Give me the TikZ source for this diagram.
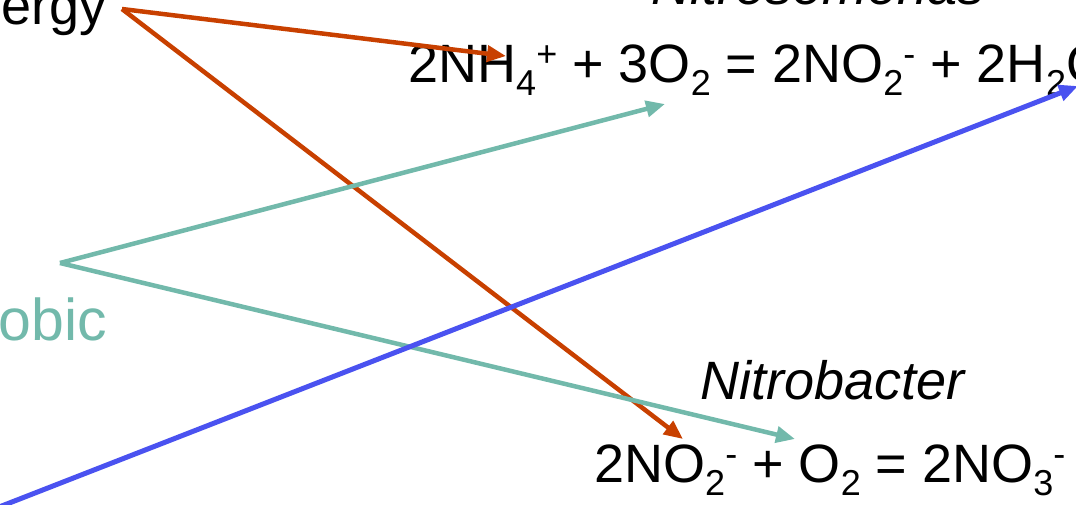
\documentclass[tikz,border=0pt]{standalone}
\usepackage{fontspec}
\setmainfont{Liberation Sans}
\usetikzlibrary{arrows.meta}
\definecolor{redarrow}{RGB}{200,64,0}
\definecolor{tealarrow}{RGB}{114,185,171}
\definecolor{bluearrow}{RGB}{74,82,240}
\newcommand\chsub[1]{\raisebox{-13pt}{\fontsize{36pt}{36pt}\selectfont #1}}
\newcommand\chsup[1]{\raisebox{16pt}{\fontsize{36pt}{36pt}\selectfont #1}}
\tikzset{
  lbl/.style={inner sep=0pt, anchor=base west, font=\fontsize{54pt}{60pt}\selectfont},
  arr/.style={line width=4.5pt, -{Triangle[length=19pt,width=16pt]}},
}
\begin{document}
\begin{tikzpicture}[x=1pt,y=-1pt]
\useasboundingbox (0,0) rectangle (1076,504);
\clip (0,0) rectangle (1076,504);
% texts
\node[lbl, anchor=base east] (energy) at (107,24) {Energy};
\node[lbl, anchor=base east, text=tealarrow, font=\fontsize{59pt}{64pt}\selectfont] (aerobic) at (107,340) {Aerobic};
\node[lbl, anchor=base, font=\fontsize{54pt}{60pt}\selectfont\itshape] (nitroso) at (818,4) {Nitrosomonas};
\node[lbl] (eqa) at (408,82) {2NH\chsub{4}\chsup{+} + 3O\chsub{2} = 2NO\chsub{2}\chsup{-} + 2H\chsub{2}O};
\node[lbl, font=\fontsize{54pt}{60pt}\selectfont\itshape] (nitrob) at (700,399) {Nitrobacter};
\node[lbl] (eqb) at (594,482) {2NO\chsub{2}\chsup{-} + O\chsub{2} = 2NO\chsub{3}\chsup{-}};
% connector points
\coordinate (rs) at (122,9);
\coordinate (ra) at (506,56);
\coordinate (rb) at (683,439);
\coordinate (ts) at (60,263);
\coordinate (ta) at (665,104);
\coordinate (tb) at (795,439);
\coordinate (bs) at (-6,509);
\coordinate (bt) at (1078,86);
% arrows
\draw[arr, redarrow] (rs) -- (ra);
\draw[arr, redarrow] (rs) -- (rb);
\draw[arr, tealarrow] (ts) -- (ta);
\draw[arr, tealarrow] (ts) -- (tb);
\draw[arr, bluearrow, line width=5pt] (bs) -- (bt);
\end{tikzpicture}
\end{document}
